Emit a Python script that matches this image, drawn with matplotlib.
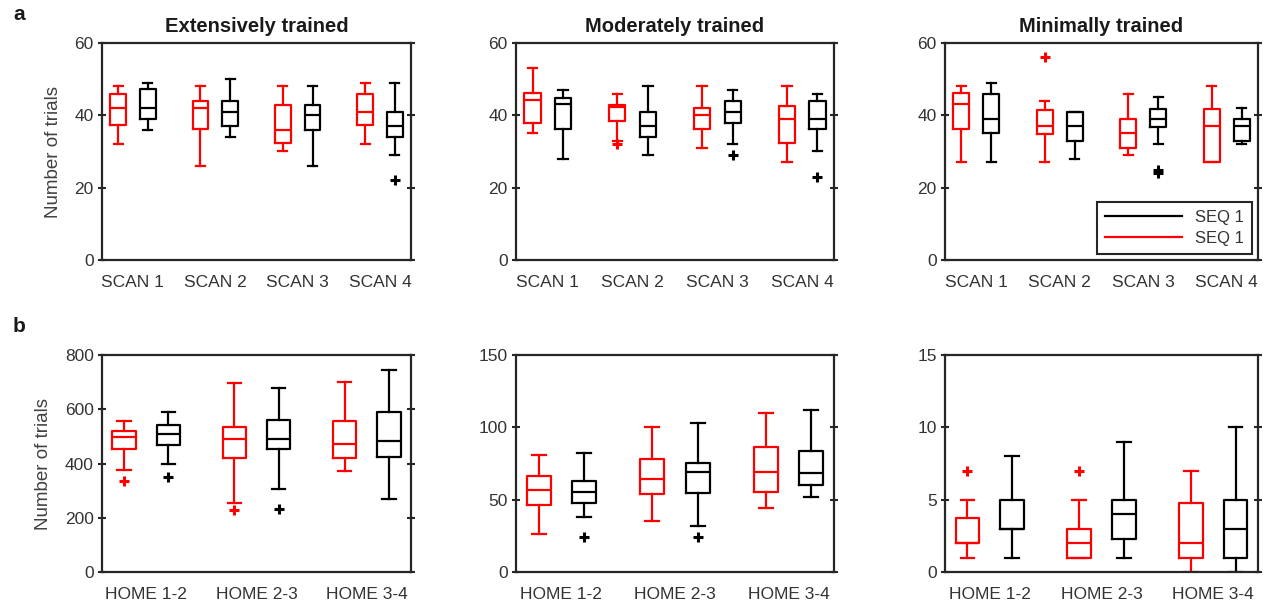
import matplotlib

matplotlib.use("Agg")
import matplotlib.pyplot as plt
from matplotlib.lines import Line2D

plt.rcParams["font.family"] = ["Liberation Sans", "DejaVu Sans"]

RED = "#ff0000"
BLACK = "#000000"
AXIS_GREY = "#262626"
TEXT_GREY = "#333333"

FIG_W, FIG_H = 1268, 608

# panel titles and category labels
TITLES = ["Extensively trained", "Moderately trained", "Minimally trained"]
SCAN_LABELS = ["SCAN 1", "SCAN 2", "SCAN 3", "SCAN 4"]
HOME_LABELS = ["HOME 1-2", "HOME 2-3", "HOME 3-4"]

# box stats per group: [whisker low, q1, median, q3, whisker high]
A_EXT_RED = [[32, 37.4, 42, 46, 48], [26, 36.3, 42, 44, 48], [30, 32.3, 36, 42.8, 48], [32, 37.2, 41, 46, 49]]
A_EXT_RED_OUT = [[], [], [], []]
A_EXT_BLACK = [[36, 39, 42, 47.2, 49], [34, 37, 41, 44, 50], [26, 36, 40, 42.8, 48], [29, 34, 37, 41, 49]]
A_EXT_BLACK_OUT = [[], [], [], [22]]

A_MOD_RED = [[35, 38, 44.2, 46.3, 53], [33, 38.5, 42.3, 42.8, 46], [31, 36.3, 40, 42, 48], [27, 32.3, 39, 42.7, 48]]
A_MOD_RED_OUT = [[], [32], [], []]
A_MOD_BLACK = [[28, 36.3, 43.1, 44.9, 47], [29, 34, 37, 41, 48], [32, 38, 41, 44, 47], [30, 36.3, 39, 44, 46]]
A_MOD_BLACK_OUT = [[], [], [29], [23]]

A_MIN_RED = [[27, 36.3, 43, 46.3, 48], [27, 34.8, 37, 41.4, 44], [29, 31, 35, 39, 46], [27, 27, 37, 41.8, 48]]
A_MIN_RED_OUT = [[], [56], [], []]
A_MIN_BLACK = [[27, 35, 39, 46, 49], [28, 32.8, 37, 41, 41], [32, 36.8, 39, 41.8, 45], [32, 33, 37, 39, 42]]
A_MIN_BLACK_OUT = [[], [], [25, 24], []]

B_EXT_RED = [[377, 453, 497, 518, 558], [256, 420, 492, 535, 696], [371, 421, 472, 555, 699]]
B_EXT_RED_OUT = [[334], [227], []]
B_EXT_BLACK = [[398, 470, 508, 541, 590], [307, 455, 492, 560, 677], [269, 423, 483, 589, 746]]
B_EXT_BLACK_OUT = [[352], [231], []]

B_MOD_RED = [[26, 46.5, 56.5, 66.6, 81], [35, 54, 64, 78, 100], [44, 55.5, 69.4, 86.6, 110]]
B_MOD_RED_OUT = [[], [], []]
B_MOD_BLACK = [[38, 47.7, 55.3, 63, 82.5], [32, 54.4, 69.4, 75.6, 103], [52, 60.4, 68.2, 83.4, 112]]
B_MOD_BLACK_OUT = [[24], [24], []]

B_MIN_RED = [[1, 2, 2, 3.75, 5], [1, 1, 2, 3, 5], [0, 1, 2, 4.75, 7]]
B_MIN_RED_OUT = [[7], [7], []]
B_MIN_BLACK = [[1, 3, 3, 5, 8], [1, 2.25, 4, 5, 9], [0, 1, 3, 5, 10]]
B_MIN_BLACK_OUT = [[], [], []]

A_YTICKS = [0, 20, 40, 60]
B_YTICKS = [[0, 200, 400, 600, 800], [0, 50, 100, 150], [0, 5, 10, 15]]

# axes boxes in pixels: (left, right), (top, bottom)
COLS = [(102, 411), (516, 834), (945, 1258)]
ROWS = [(43, 260), (355, 572)]


def make_stats(rows, outliers):
    stats = []
    for r, out in zip(rows, outliers):
        stats.append(
            {"whislo": r[0], "q1": r[1], "med": r[2], "q3": r[3], "whishi": r[4], "fliers": out}
        )
    return stats


def draw_pair(ax, red, red_out, black, black_out, offset, width, cap):
    n = len(red)
    for rows, outs, color, sign in [(red, red_out, RED, -1), (black, black_out, BLACK, 1)]:
        line = {"color": color, "linewidth": 1.6}
        ax.bxp(
            make_stats(rows, outs),
            positions=[i + 1 + sign * offset for i in range(n)],
            widths=width,
            capwidths=cap,
            boxprops=line,
            whiskerprops=line,
            capprops=line,
            medianprops=line,
            flierprops={"marker": "+", "markeredgecolor": color, "markersize": 7, "markeredgewidth": 2.2},
            manage_ticks=False,
        )


def style_axes(ax, yticks, labels, xlim):
    ax.set_xlim(xlim)
    ax.set_ylim(yticks[0], yticks[-1])
    ax.set_yticks(yticks)
    ax.set_xticks(range(1, len(labels) + 1))
    ax.set_xticklabels(labels)
    ax.tick_params(axis="x", length=0, pad=11, labelsize=12.5, labelcolor=TEXT_GREY)
    ax.tick_params(
        axis="y", direction="inout", length=6, width=1.5, color=AXIS_GREY,
        right=True, labelsize=12.5, labelcolor=TEXT_GREY, pad=3,
    )
    for s in ax.spines.values():
        s.set_color(AXIS_GREY)
        s.set_linewidth(1.6)


fig = plt.figure(figsize=(FIG_W / 100, FIG_H / 100), dpi=100, facecolor="white")


def add_ax(row, col):
    (l, r), (t, b) = COLS[col], ROWS[row]
    return fig.add_axes([l / FIG_W, 1 - b / FIG_H, (r - l) / FIG_W, (b - t) / FIG_H])


a_data = [
    (A_EXT_RED, A_EXT_RED_OUT, A_EXT_BLACK, A_EXT_BLACK_OUT),
    (A_MOD_RED, A_MOD_RED_OUT, A_MOD_BLACK, A_MOD_BLACK_OUT),
    (A_MIN_RED, A_MIN_RED_OUT, A_MIN_BLACK, A_MIN_BLACK_OUT),
]
b_data = [
    (B_EXT_RED, B_EXT_RED_OUT, B_EXT_BLACK, B_EXT_BLACK_OUT),
    (B_MOD_RED, B_MOD_RED_OUT, B_MOD_BLACK, B_MOD_BLACK_OUT),
    (B_MIN_RED, B_MIN_RED_OUT, B_MIN_BLACK, B_MIN_BLACK_OUT),
]

for ii in range(3):
    ax = add_ax(0, ii)
    draw_pair(ax, *a_data[ii], offset=0.18, width=0.19, cap=0.11)
    style_axes(ax, A_YTICKS, SCAN_LABELS, (0.625, 4.375))
    ax.set_title(TITLES[ii], fontsize=14.5, fontweight="bold", color="#1a1a1a", pad=8)
    if ii == 0:
        ax.set_ylabel("Number of trials", fontsize=13.5, color="#404040", labelpad=9)
    if ii == 2:
        handles = [Line2D([], [], color=BLACK, lw=1.6), Line2D([], [], color=RED, lw=1.6)]
        leg = ax.legend(
            handles, ["SEQ 1", "SEQ 1"], loc="lower right", fontsize=12,
            handlelength=4.6, fancybox=False, framealpha=1, borderaxespad=0.35,
            labelspacing=0.35, handletextpad=0.8, borderpad=0.5,
        )
        leg.get_frame().set_edgecolor(AXIS_GREY)
        leg.get_frame().set_linewidth(1.5)
        for t in leg.get_texts():
            t.set_color(TEXT_GREY)

    ax = add_ax(1, ii)
    draw_pair(ax, *b_data[ii], offset=0.2, width=0.21, cap=0.12)
    style_axes(ax, B_YTICKS[ii], HOME_LABELS, (0.6, 3.4))
    if ii == 0:
        ax.set_ylabel("Number of trials", fontsize=13.5, color="#404040", labelpad=9)

fig.text(13 / FIG_W, 1 - 20 / FIG_H, "a", fontsize=15, fontweight="bold", color="#1a1a1a")
fig.text(13 / FIG_W, 1 - 332 / FIG_H, "b", fontsize=15, fontweight="bold", color="#1a1a1a")

plt.savefig("out.png", dpi=100, facecolor="white")
